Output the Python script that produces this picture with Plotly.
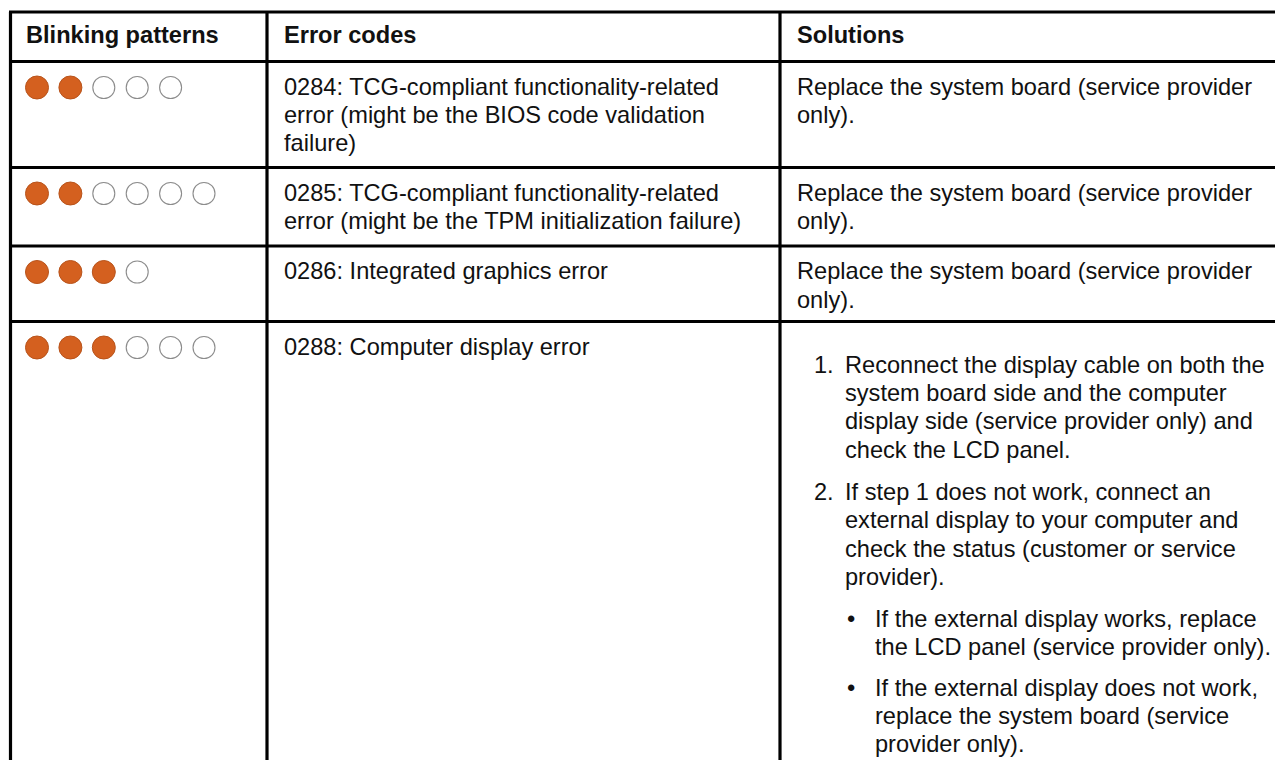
import plotly.graph_objects as go

# ---------------- data ----------------
headers = ["Blinking patterns", "Error codes", "Solutions"]
filled_counts = [2, 2, 3, 3]
total_counts = [5, 6, 4, 6]
error_codes = [
    ["0284: TCG-compliant functionality-related",
     "error (might be the BIOS code validation",
     "failure)"],
    ["0285: TCG-compliant functionality-related",
     "error (might be the TPM initialization failure)"],
    ["0286: Integrated graphics error"],
    ["0288: Computer display error"],
]
simple_solution = ["Replace the system board (service provider", "only)."]
steps = [
    ["Reconnect the display cable on both the",
     "system board side and the computer",
     "display side (service provider only) and",
     "check the LCD panel."],
    ["If step 1 does not work, connect an",
     "external display to your computer and",
     "check the status (customer or service",
     "provider)."],
]
bullets = [
    ["If the external display works, replace",
     "the LCD panel (service provider only)."],
    ["If the external display does not work,",
     "replace the system board (service",
     "provider only)."],
]

# ---------------- layout constants ----------------
W, H = 1283, 760
PAD = 8  # default page body margin
FS = 23.6
FONT = "Helvetica, 'Liberation Sans', Arial, sans-serif"
LH = 28.3
row_tops = [61.5, 167.5, 246, 321.5]
table_top = 12
col_lines = [10.5, 267, 780]
col_text_x = [24, 282, 795]
ORANGE = "#D4601F"

fig = go.Figure()

# blinking pattern circles
for r, (nf, nt) in enumerate(zip(filled_counts, total_counts)):
    xs = [37 + 33.4 * i for i in range(nt)]
    ys = [row_tops[r] + 26] * nt
    fig.add_trace(go.Scatter(
        x=xs[:nf], y=ys[:nf], mode="markers", hoverinfo="skip",
        marker=dict(size=23, color=ORANGE, line=dict(color="#B8541C", width=1)),
        showlegend=False))
    fig.add_trace(go.Scatter(
        x=xs[nf:], y=ys[nf:], mode="markers", hoverinfo="skip",
        marker=dict(size=22, color="white", line=dict(color="#8c8c8c", width=1.1)),
        showlegend=False))

annotations = []


def txt(x, baseline, s, bold=False):
    annotations.append(dict(
        x=x, y=baseline - 0.35 * FS, xref="x", yref="y",
        text=f"<b>{s}</b>" if bold else s, showarrow=False,
        xanchor="left", yanchor="middle",
        font=dict(family=FONT, size=FS, color="#111111")))


# header
for cx, h in zip(col_text_x, headers):
    txt(cx, 43, h, bold=True)

# error codes
for r, lines in enumerate(error_codes):
    for i, line in enumerate(lines):
        txt(col_text_x[1], row_tops[r] + 33.5 + i * LH, line)

# simple solutions rows 1-3
for r in range(3):
    for i, line in enumerate(simple_solution):
        txt(col_text_x[2], row_tops[r] + 33.5 + i * LH, line)

# detailed solution row 4
b = row_tops[3] + 51.5
for k, step in enumerate(steps):
    txt(812, b, f"{k + 1}.")
    for i, line in enumerate(step):
        txt(843, b + i * LH, line)
    b += len(step) * LH + 14
for bl in bullets:
    txt(845, b, "•")
    for i, line in enumerate(bl):
        txt(873, b + i * LH, line)
    b += len(bl) * LH + 12

# table lines
shapes = []
lw = 3.2
for y in [table_top, row_tops[0], row_tops[1], row_tops[2], row_tops[3]]:
    shapes.append(dict(type="line", xref="x", yref="y", x0=col_lines[0] - 1.5, x1=W + 5,
                       y0=y, y1=y, line=dict(color="black", width=lw)))
for x in col_lines:
    shapes.append(dict(type="line", xref="x", yref="y", x0=x, x1=x,
                       y0=table_top, y1=H + 5, line=dict(color="black", width=lw)))

fig.update_layout(
    width=W - PAD, height=H - PAD, margin=dict(l=0, r=0, t=0, b=0),
    paper_bgcolor="white", plot_bgcolor="white",
    xaxis=dict(range=[PAD, W], visible=False, fixedrange=True),
    yaxis=dict(range=[H, PAD], visible=False, fixedrange=True),
    annotations=annotations, shapes=shapes, showlegend=False,
)

fig.write_html("out.html")
